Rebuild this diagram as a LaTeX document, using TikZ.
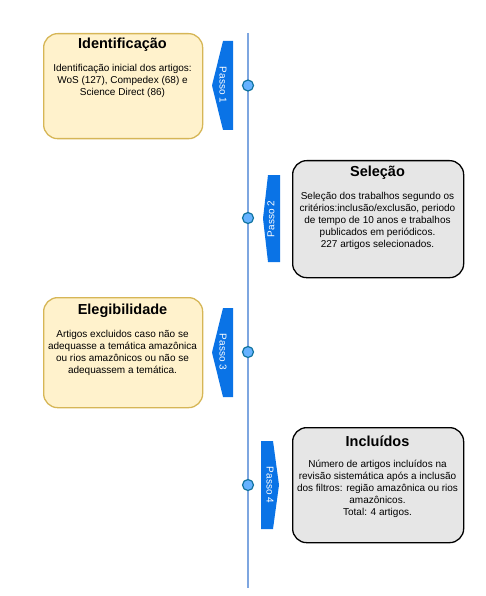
\documentclass[tikz,border=0pt]{standalone}
\usepackage{fontspec}
\setmainfont{Liberation Sans}
\definecolor{yfill}{HTML}{FFF2CC}
\definecolor{ydraw}{HTML}{D6B656}
\definecolor{gfill}{HTML}{E6E6E6}
\definecolor{tline}{HTML}{7EA6E0}
\definecolor{dotfill}{HTML}{66B2FF}
\definecolor{dotdraw}{HTML}{10739E}
\definecolor{tabblue}{HTML}{0A73E6}
\begin{document}
\begin{tikzpicture}[x=1pt,y=-1pt,
 box/.style={draw, rounded corners=14pt, line width=1.3pt, inner sep=0pt, anchor=north west},
 ybox/.style={box, fill=yfill, draw=ydraw},
 gbox/.style={box, fill=gfill, draw=black},
 titletext/.style={font=\bfseries\fontsize{14.5}{17}\selectfont, anchor=center, inner sep=0pt},
 bodytext/.style={font=\fontsize{10}{12}\selectfont, align=center, anchor=center, inner sep=0pt},
 dot/.style={circle, fill=dotfill, draw=dotdraw, line width=1.2pt, minimum size=11pt, inner sep=0pt},
 tabshape/.style={fill=tabblue, draw=none},
 tabtext/.style={text=white, font=\fontsize{10}{12}\selectfont, inner sep=0pt}
]
\useasboundingbox (0,0) rectangle (485,596);

% timeline
\coordinate (ltop) at (248,33);
\coordinate (lbot) at (248,588);
\draw[tline, line width=1.5pt] (ltop) -- (lbot);

% boxes
\node[ybox, minimum width=159pt, minimum height=105pt] (b1) at (43,33) {};
\node[titletext] (t1) at (122.5,45) {Identificação};
\node[bodytext] (x1) at (122.5,81) {Identificação inicial dos artigos:\\WoS (127), Compedex (68) e\\Science Direct (86)};

\node[gbox, minimum width=171pt, minimum height=117pt] (b2) at (292,160) {};
\node[titletext] (t2) at (377.5,173) {Seleção};
\node[bodytext] (x2) at (377.5,221) {Seleção dos trabalhos segundo os\\critérios:inclusão/exclusão, periodo\\de tempo de 10 anos e trabalhos\\publicados em periódicos.\\227 artigos selecionados.};

\node[ybox, minimum width=159pt, minimum height=110pt] (b3) at (43,297) {};
\node[titletext] (t3) at (122.5,311) {Elegibilidade};
\node[bodytext] (x3) at (122.5,353) {Artigos excluidos caso não se\\adequasse a temática amazônica\\ou rios amazônicos ou não se\\adequassem a temática.};

\node[gbox, minimum width=171pt, minimum height=115pt] (b4) at (292,427) {};
\node[titletext] (t4) at (377.5,441) {Incluídos};
\node[bodytext] (x4) at (377.5,489) {Número de artigos incluídos na\\revisão sistemática após a inclusão\\dos filtros: região amazônica ou rios\\amazônicos.\\Total: 4 artigos.};

% tabs
\fill[tabshape] (223,41) -- (233,41) -- (233,130) -- (223,130) -- (212,85.5) -- cycle;
\node[tabtext, rotate=-90] (p1) at (223,85) {Passo 1};
\fill[tabshape] (268,175) -- (280,175) -- (280,262) -- (268,262) -- (263,218.5) -- cycle;
\node[tabtext, rotate=90] (p2) at (271,219) {Passo 2};
\fill[tabshape] (223,308) -- (233,308) -- (233,397) -- (223,397) -- (212,352.5) -- cycle;
\node[tabtext, rotate=-90] (p3) at (223,352) {Passo 3};
\fill[tabshape] (261,441) -- (273,441) -- (279,485) -- (273,529) -- (261,529) -- cycle;
\node[tabtext, rotate=-90] (p4) at (270,485) {Passo 4};

% dots
\node[dot] (d1) at (248,85.5) {};
\node[dot] (d2) at (248,218) {};
\node[dot] (d3) at (248,352) {};
\node[dot] (d4) at (248,485) {};
\end{tikzpicture}
\end{document}
